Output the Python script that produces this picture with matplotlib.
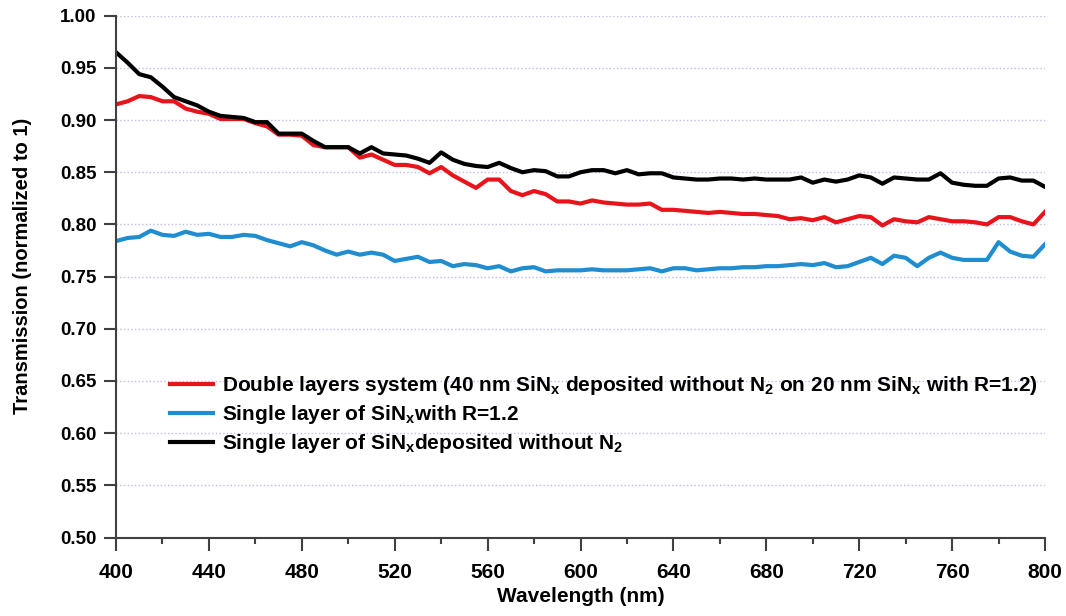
from matplotlib import pyplot as plt
import numpy as np

wl = np.arange(400, 801, 5)

t_double = [0.915, 0.918, 0.923, 0.922, 0.918, 0.918, 0.911, 0.908, 0.906, 0.901,
            0.901, 0.901, 0.897, 0.894, 0.886, 0.886, 0.885, 0.876, 0.874, 0.874,
            0.874, 0.864, 0.867, 0.862, 0.857, 0.857, 0.855, 0.849, 0.855, 0.847,
            0.841, 0.835, 0.843, 0.843, 0.832, 0.828, 0.832, 0.829, 0.822, 0.822,
            0.820, 0.823, 0.821, 0.820, 0.819, 0.819, 0.820, 0.814, 0.814, 0.813,
            0.812, 0.811, 0.812, 0.811, 0.810, 0.810, 0.809, 0.808, 0.805, 0.806,
            0.804, 0.807, 0.802, 0.805, 0.808, 0.807, 0.799, 0.805, 0.803, 0.802,
            0.807, 0.805, 0.803, 0.803, 0.802, 0.800, 0.807, 0.807, 0.803, 0.800,
            0.812]

t_r12 = [0.784, 0.787, 0.788, 0.794, 0.790, 0.789, 0.793, 0.790, 0.791, 0.788,
         0.788, 0.790, 0.789, 0.785, 0.782, 0.779, 0.783, 0.780, 0.775, 0.771,
         0.774, 0.771, 0.773, 0.771, 0.765, 0.767, 0.769, 0.764, 0.765, 0.760,
         0.762, 0.761, 0.758, 0.760, 0.755, 0.758, 0.759, 0.755, 0.756, 0.756,
         0.756, 0.757, 0.756, 0.756, 0.756, 0.757, 0.758, 0.755, 0.758, 0.758,
         0.756, 0.757, 0.758, 0.758, 0.759, 0.759, 0.760, 0.760, 0.761, 0.762,
         0.761, 0.763, 0.759, 0.760, 0.764, 0.768, 0.762, 0.770, 0.768, 0.760,
         0.768, 0.773, 0.768, 0.766, 0.766, 0.766, 0.783, 0.774, 0.770, 0.769,
         0.781]

t_noN2 = [0.965, 0.955, 0.944, 0.941, 0.932, 0.922, 0.918, 0.914, 0.908, 0.904,
          0.903, 0.902, 0.898, 0.898, 0.887, 0.887, 0.887, 0.880, 0.874, 0.874,
          0.874, 0.868, 0.874, 0.868, 0.867, 0.866, 0.863, 0.859, 0.869, 0.862,
          0.858, 0.856, 0.855, 0.859, 0.854, 0.850, 0.852, 0.851, 0.846, 0.846,
          0.850, 0.852, 0.852, 0.849, 0.852, 0.848, 0.849, 0.849, 0.845, 0.844,
          0.843, 0.843, 0.844, 0.844, 0.843, 0.844, 0.843, 0.843, 0.843, 0.845,
          0.840, 0.843, 0.841, 0.843, 0.847, 0.845, 0.839, 0.845, 0.844, 0.843,
          0.843, 0.849, 0.840, 0.838, 0.837, 0.837, 0.844, 0.845, 0.842, 0.842,
          0.836]

labels = [r'Double layers system (40 nm SiN$_\mathregular{x}$ deposited without N$_\mathregular{2}$ on 20 nm SiN$_\mathregular{x}$ with R=1.2)',
          r'Single layer of SiN$_\mathregular{x}$with R=1.2',
          r'Single layer of SiN$_\mathregular{x}$deposited without N$_\mathregular{2}$']

plt.rcParams['font.family'] = ['Liberation Sans', 'DejaVu Sans']
plt.rcParams['font.weight'] = 'bold'
plt.rcParams['axes.labelweight'] = 'bold'
plt.rcParams['mathtext.fontset'] = 'custom'
plt.rcParams['mathtext.rm'] = 'Liberation Sans:bold'
plt.rcParams['mathtext.default'] = 'regular'

W, H = 1066, 616
fig = plt.figure(figsize=(W / 100, H / 100), dpi=100)
ax = fig.add_axes([116 / W, 1 - 537.5 / H, 929 / W, 521.8 / H])

ax.plot(wl, t_double, color='#e8141c', lw=3, label=labels[0])
ax.plot(wl, t_r12, color='#1f8dd0', lw=3, label=labels[1])
ax.plot(wl, t_noN2, color='black', lw=3, label=labels[2])

ax.set_xlim(400, 800)
ax.set_ylim(0.5, 1.0)
ax.set_xticks(np.arange(400, 801, 40))
ax.set_xticks(np.arange(400, 801, 20), minor=True)
yt = np.arange(0.5, 1.001, 0.05)
ax.set_yticks(yt)
ax.set_yticklabels([f'{v:.2f}' for v in yt])
ax.yaxis.grid(True, linestyle=':', color='#bcbcf0', linewidth=1)
ax.set_axisbelow(True)

for s in ['top', 'right']:
    ax.spines[s].set_visible(False)
for s in ['left', 'bottom']:
    ax.spines[s].set_linewidth(1.5)
    ax.spines[s].set_color('#404040')
ax.tick_params(which='major', direction='out', length=9, width=1.5, color='#404040')
ax.tick_params(which='minor', direction='out', length=4.5, width=1.5, color='#404040')
ax.tick_params(axis='x', labelsize=15, pad=9)
ax.tick_params(axis='y', labelsize=13.5, pad=5)

ax.set_xlabel('Wavelength (nm)', fontsize=15, labelpad=4)
ax.set_ylabel('Transmission (normalized to 1)', fontsize=14.5)
ax.yaxis.set_label_coords(-0.09, 0.52)

ax.legend(loc='upper left', bbox_to_anchor=(160 / W, 1 - 364 / H),
          bbox_transform=fig.transFigure, frameon=False, borderpad=0,
          fontsize=15, handlelength=2.05, handletextpad=0.45, labelspacing=0.28)

fig.savefig('out.png')
